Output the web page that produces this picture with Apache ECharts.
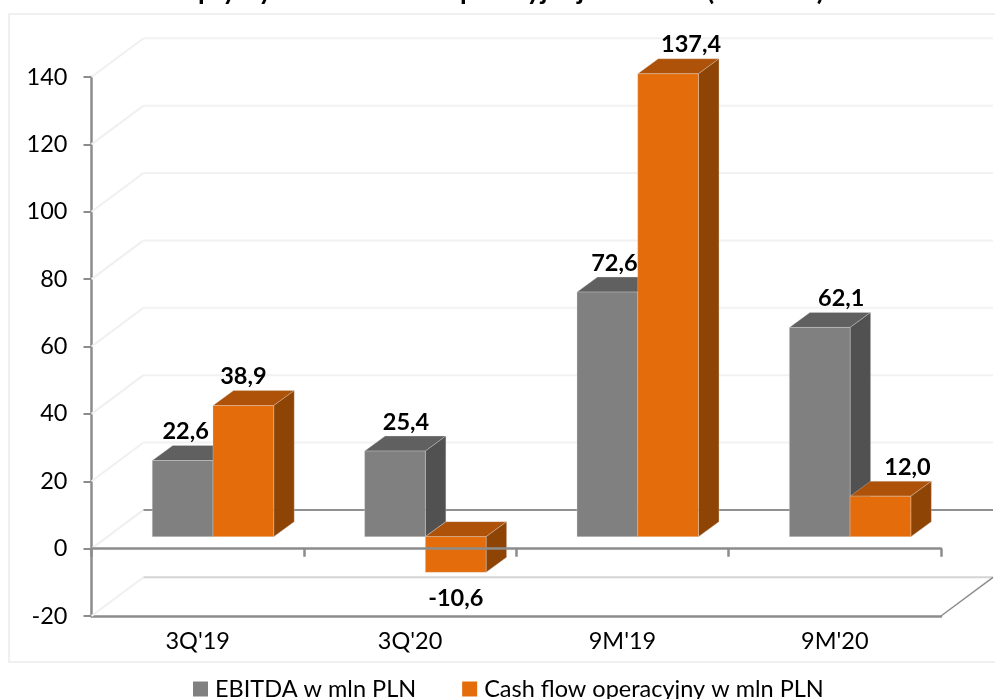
<!DOCTYPE html>
<html>
<head>
<meta charset="utf-8">
<style>
  html, body { margin: 0; padding: 0; background: #fff; overflow: hidden; }
  #chart { width: 995px; height: 699px; }
</style>
<script src="https://cdn.jsdelivr.net/npm/echarts@6/dist/echarts.min.js"></script>
</head>
<body>
<div id="chart"></div>
<script>
const categories = ["3Q'19", "3Q'20", "9M'19", "9M'20"];
const ebitda = [22.6, 25.4, 72.6, 62.1];
const cashFlow = [38.9, -10.6, 137.4, 12.0];
const yTicks = [-20, 0, 20, 40, 60, 80, 100, 120, 140];
const seriesNames = ['EBITDA w mln PLN', 'Cash flow operacyjny w mln PLN'];

// przesunięcia etykiet względem środka słupka (jak w oryginale z Excela)
const ebitdaLabelDx = [3, 11, 7, 21.5];
const cashLabelDx = [0, 0, 23, 27];

// rzut 3D: głębokość ścian i słupków w pikselach
const WALL_DX = 52, WALL_DY = 38.7;
const BAR_SHIFT_X = 15.3, BAR_SHIFT_Y = 12;
const BAR_DX = 20.5, BAR_DY = 15;
const BAR_WIDTH = 0.286;
const FONT = 'Lato, "Noto Sans", sans-serif';
const AXIS_COLOR = '#8c8c8c';

const GREY = { front: '#808080', top: '#606060', side: '#515151' };
const ORANGE = { front: '#E46C0A', top: '#AD5208', side: '#8E4405' };

function fmt(v) {
  return v.toFixed(1).replace('.', ',');
}

function renderWall(params, api) {
  const v = api.value(0);
  const cs = params.coordSys;
  const y = api.coord([0, v])[1];
  const left = cs.x, right = cs.x + cs.width;
  let backColor = '#f2f2f2';
  if (v === 0) backColor = '#919191';
  if (v === -20) backColor = '#d4d4d4';
  const children = [
    {
      type: 'line',
      shape: { x1: left, y1: y, x2: left + WALL_DX, y2: y - WALL_DY },
      style: { stroke: '#f0f0f0', lineWidth: 2 }
    },
    {
      type: 'line',
      shape: { x1: left + WALL_DX, y1: y - WALL_DY, x2: right + WALL_DX, y2: y - WALL_DY },
      style: { stroke: backColor, lineWidth: 2 }
    }
  ];
  if (v === -20) {
    // prawa krawędź podłogi
    children.push({
      type: 'line',
      shape: { x1: right, y1: y, x2: right + WALL_DX, y2: y - WALL_DY },
      style: { stroke: AXIS_COLOR, lineWidth: 1.5 }
    });
  }
  return { type: 'group', children };
}

function makeBarRenderer(seriesIndex, colors, labelDx) {
  return function (params, api) {
    const i = api.value(0);
    const v = api.value(1);
    const w = api.size([1, 0])[0] * BAR_WIDTH;
    const center = api.coord([i, 0])[0] + BAR_SHIFT_X;
    const x0 = seriesIndex === 0 ? center - w : center;
    const x1 = x0 + w;
    const yZero = api.coord([i, 0])[1] - BAR_SHIFT_Y;
    const yVal = api.coord([i, v])[1] - BAR_SHIFT_Y;
    const yTop = Math.min(yZero, yVal);
    const yBot = Math.max(yZero, yVal);
    const edge = { stroke: 'rgba(225,225,225,0.4)', lineWidth: 0.8 };
    const labelY = v < 0 ? yBot + 26 : yTop - 29;
    return {
      type: 'group',
      children: [
        {
          type: 'polygon',
          shape: { points: [[x0, yTop], [x0 + BAR_DX, yTop - BAR_DY], [x1 + BAR_DX, yTop - BAR_DY], [x1, yTop]] },
          style: Object.assign({ fill: colors.top }, edge)
        },
        {
          type: 'polygon',
          shape: { points: [[x1, yTop], [x1 + BAR_DX, yTop - BAR_DY], [x1 + BAR_DX, yBot - BAR_DY], [x1, yBot]] },
          style: Object.assign({ fill: colors.side }, edge)
        },
        {
          type: 'rect',
          shape: { x: x0, y: yTop, width: w, height: yBot - yTop },
          style: Object.assign({ fill: colors.front }, edge)
        },
        {
          type: 'text',
          z2: 10,
          style: {
            text: fmt(v),
            x: (x0 + x1) / 2 + labelDx[i],
            y: labelY,
            align: 'center',
            verticalAlign: 'middle',
            fill: '#000',
            font: 'bold 23.5px ' + FONT
          }
        }
      ]
    };
  };
}

const chart = echarts.init(document.getElementById('chart'));

chart.setOption({
  animation: false,
  backgroundColor: '#fff',
  title: {
    text: 'Wpływy z działalności operacyjnej i EBITDA (mln PLN)',
    left: 'center',
    top: -27,
    textStyle: { fontFamily: FONT, fontSize: 27, fontWeight: 'bold', color: '#000' }
  },
  graphic: [{
    type: 'rect',
    silent: true,
    z: -1,
    shape: { x: 9, y: 14, width: 1000, height: 648 },
    style: { fill: 'none', stroke: '#f0f0f0', lineWidth: 2 }
  }],
  legend: {
    left: 188,
    top: 672,
    itemWidth: 15,
    itemHeight: 15,
    itemGap: 46,
    icon: 'rect',
    data: seriesNames,
    textStyle: { fontFamily: FONT, fontSize: 23.5, color: '#000', padding: [0, 0, 0, 2] }
  },
  grid: { left: 91.5, top: 77, width: 849.5, height: 539 },
  xAxis: [
    {
      type: 'category',
      data: categories,
      position: 'bottom',
      axisLine: { onZero: false, lineStyle: { color: AXIS_COLOR, width: 2.5 } },
      axisTick: { show: false },
      axisLabel: { fontFamily: FONT, fontSize: 23.5, color: '#000', margin: 13 }
    },
    {
      type: 'category',
      data: categories,
      position: 'bottom',
      z: 5,
      axisLine: { onZero: true, lineStyle: { color: AXIS_COLOR, width: 2.5 } },
      axisTick: { show: true, length: 8, lineStyle: { color: AXIS_COLOR, width: 2.5 } },
      axisLabel: { show: false }
    }
  ],
  yAxis: {
    type: 'value',
    min: -20,
    max: 140,
    interval: 20,
    axisLine: { show: true, onZero: false, lineStyle: { color: AXIS_COLOR, width: 2.5 } },
    axisTick: { show: true, length: 8, lineStyle: { color: AXIS_COLOR, width: 2 } },
    axisLabel: { fontFamily: FONT, fontSize: 23.5, color: '#000', margin: 24, padding: [9, 0, 0, 0] },
    splitLine: { show: false }
  },
  series: [
    {
      type: 'custom',
      silent: true,
      z: 1,
      data: yTicks.map(v => [v]),
      encode: { y: 0 },
      renderItem: renderWall
    },
    {
      name: seriesNames[0],
      type: 'custom',
      silent: true,
      z: 2,
      itemStyle: { color: GREY.front },
      data: ebitda.map((v, i) => [i, v]),
      encode: { x: 0, y: 1 },
      renderItem: makeBarRenderer(0, GREY, ebitdaLabelDx)
    },
    {
      name: seriesNames[1],
      type: 'custom',
      silent: true,
      z: 3,
      itemStyle: { color: ORANGE.front },
      data: cashFlow.map((v, i) => [i, v]),
      encode: { x: 0, y: 1 },
      renderItem: makeBarRenderer(1, ORANGE, cashLabelDx)
    }
  ]
});
window.addEventListener('resize', () => chart.resize());
</script>
</body>
</html>
